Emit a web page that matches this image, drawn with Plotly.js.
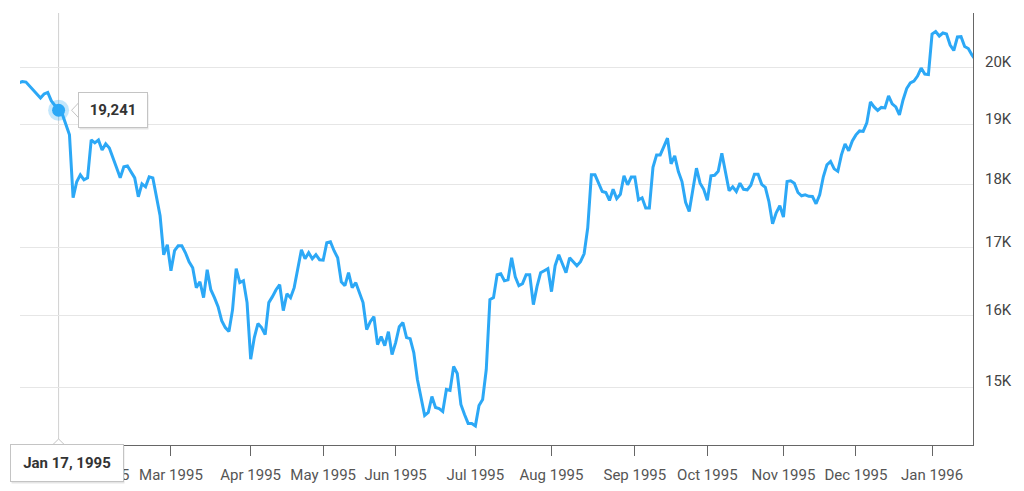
<!DOCTYPE html>
<html>
<head>
<meta charset="utf-8">
<script src="https://cdn.plot.ly/plotly-3.0.1.min.js"></script>
<style>
  html, body { margin: 0; padding: 0; background: #ffffff; }
  #chart { width: 1024px; height: 491px; }
</style>
</head>
<body>
<div id="chart"></div>
<script>
// ---- Data (Nikkei 225 daily close) ----
const startDate = '1994-12-28';
const endDate = '1996-01-23';
// Tokyo market holidays (weekdays) in the period
const holidays = [
  '1995-01-02','1995-01-03','1995-01-16','1995-03-21','1995-05-03','1995-05-04','1995-05-05',
  '1995-09-15','1995-10-10','1995-11-03','1995-11-23','1996-01-01','1996-01-02','1996-01-03','1996-01-15'
];
const values = [
  19720,19745,19735,19665,19595,19507,19455,19525,19551,19403,
  19316,19241,19178,19006,18820,17785,18042,18156,18074,18106,
  18735,18685,18735,18567,18668,18600,18451,18270,18106,18286,
  18302,18204,18106,17800,18009,17961,18123,18106,17816,17499,
  16896,17048,16655,16957,17033,17033,16926,16790,16700,16403,
  16491,16256,16670,16373,16256,16125,15924,15824,15767,16082,
  16685,16477,16506,16184,15381,15682,15881,15824,15725,16184,
  16271,16373,16447,16068,16314,16256,16403,16670,16972,16835,
  16926,16835,16896,16820,16813,17079,17094,16957,16850,16491,
  16432,16625,16403,16477,16344,16184,15795,15909,15981,15584,
  15696,15570,15767,15445,15612,15838,15895,15682,15668,15472,
  15102,14833,14621,14660,14873,14727,14713,14674,14967,14954,
  15279,15183,14767,14634,14517,14517,14485,14753,14833,15238,
  16227,16256,16595,16610,16506,16521,16850,16565,16432,16462,
  16595,16595,16155,16418,16625,16655,16685,16344,16730,16896,
  16745,16625,16850,16790,16730,16790,16911,17311,18156,18156,
  18025,17885,17869,17741,17920,17771,17840,18139,17993,18118,
  18118,17752,17784,17620,17620,18278,18484,18484,18622,18764,
  18335,18467,18209,18046,17713,17566,17912,18265,18020,17920,
  17744,18139,18147,18212,18512,18204,17896,17961,17885,18020,
  17920,17912,17985,18163,18163,18001,17953,17721,17374,17546,
  17658,17478,18046,18058,18020,17869,17816,17832,17808,17805,
  17689,17832,18123,18319,18376,18253,18212,18484,18668,18551,
  18718,18820,18887,18879,19023,19385,19299,19238,19290,19282,
  19490,19351,19299,19161,19420,19621,19719,19754,19843,19986,
  19879,19868,20607,20653,20570,20626,20607,20405,20304,20552,
  20558,20377,20340,20222,20131
];
const highlightDate = '1995-01-17';
const firstTickMonth = '1995-02';
const yTickVals = [15000, 16000, 17000, 18000, 19000, 20000, 21000];
const yTickText = ['15K', '16K', '17K', '18K', '19K', '20K', ''];
const monthNames = ['Jan','Feb','Mar','Apr','May','Jun','Jul','Aug','Sep','Oct','Nov','Dec'];

// ---- trading-day calendar ----
function tradingDays(start, end, hol) {
  const out = [];
  const hs = new Set(hol);
  const d = new Date(start + 'T00:00:00Z');
  const e = new Date(end + 'T00:00:00Z');
  while (d <= e) {
    const wd = d.getUTCDay();
    const s = d.toISOString().slice(0, 10);
    if (wd !== 0 && wd !== 6 && !hs.has(s)) out.push(s);
    d.setUTCDate(d.getUTCDate() + 1);
  }
  return out;
}
const dates = tradingDays(startDate, endDate, holidays);

// month ticks at first trading day of each month
const tickVals = [], tickText = [];
for (let i = 0; i < dates.length; i++) {
  const m = dates[i].slice(0, 7);
  if ((i === 0 || dates[i - 1].slice(0, 7) !== m) && m >= firstTickMonth) {
    tickVals.push(dates[i]);
    tickText.push(monthNames[parseInt(dates[i].slice(5, 7), 10) - 1] + ' ' + dates[i].slice(0, 4));
  }
}

const lineColor = '#2ca8f6';
const hi = dates.indexOf(highlightDate);
const hiVal = values[hi];
const yMin = Math.log10(14238), yMax = Math.log10(21000) + 1e-5;
const pHi = (Math.log10(hiVal) - yMin) / (yMax - yMin);
const hiLabel = (() => {
  const p = highlightDate.split('-');
  return monthNames[parseInt(p[1], 10) - 1] + ' ' + parseInt(p[2], 10) + ', ' + p[0];
})();
const valLabel = hiVal.toLocaleString('en-US');

const traces = [
  { x: dates, y: values, type: 'scatter', mode: 'lines',
    line: { color: lineColor, width: 3 }, hoverinfo: 'skip' },
  { x: [dates[hi]], y: [hiVal], type: 'scatter', mode: 'markers',
    marker: { size: 21, color: 'rgba(44,168,246,0.28)' }, hoverinfo: 'skip' },
  { x: [dates[hi]], y: [hiVal], type: 'scatter', mode: 'markers',
    marker: { size: 13, color: lineColor }, hoverinfo: 'skip' }
];

const plotH = 491 - 13 - 46;
const layout = {
  width: 1024, height: 491,
  margin: { l: 20, r: 51, t: 13, b: 46, pad: 0 },
  paper_bgcolor: '#ffffff', plot_bgcolor: '#ffffff',
  showlegend: false, hovermode: false,
  font: { family: 'Roboto, sans-serif', color: '#444', size: 15 },
  xaxis: {
    type: 'category', range: [0.35, 263.3],
    showgrid: false, zeroline: false, showline: true, linecolor: '#666', linewidth: 1,
    ticks: 'outside', ticklen: 10, tickcolor: '#666', tickwidth: 1,
    tickmode: 'array', tickvals: tickVals, ticktext: tickText, tickangle: 0,
    ticklabelstandoff: 6,
    tickfont: { family: 'Roboto, sans-serif', size: 15, color: '#555' }, automargin: false
  },
  yaxis: {
    type: 'log', side: 'right', range: [yMin, yMax],
    tickmode: 'array', tickvals: yTickVals, ticktext: yTickText,
    showgrid: true, gridcolor: '#e6e6e6', gridwidth: 1,
    showline: true, linecolor: '#666', linewidth: 1,
    ticks: 'outside', ticklen: 8, tickcolor: 'rgba(0,0,0,0)',
    ticklabelshift: -6,
    zeroline: false,
    tickfont: { family: 'Roboto, sans-serif', size: 15, color: '#444' }, automargin: false
  },
  shapes: [
    { type: 'line', xref: 'x', yref: 'paper', x0: dates[hi], x1: dates[hi], y0: -0.014, y1: 1,
      line: { color: '#d0d0d0', width: 1 }, layer: 'below' },
    { type: 'path', xref: 'x', yref: 'paper', xsizemode: 'pixel', xanchor: dates[hi],
      path: 'M 13 ' + pHi + ' L 20.5 ' + (pHi + 8 / plotH) + ' L 20.5 ' + (pHi - 8 / plotH) + ' Z',
      fillcolor: '#ffffff', line: { color: '#c4c4c4', width: 1 }, layer: 'above' },
    { type: 'path', xref: 'x', yref: 'paper', xsizemode: 'pixel', xanchor: dates[hi],
      path: 'M -7 -0.002 L 0 ' + (6 / plotH) + ' L 7 -0.002 Z',
      fillcolor: '#ffffff', line: { color: '#c4c4c4', width: 1 }, layer: 'above' }
  ],
  annotations: [
    // shadows
    { xref: 'x', yref: 'paper', x: dates[hi], y: pHi, xanchor: 'left', yanchor: 'middle',
      xshift: 20, yshift: -2, text: '', showarrow: false, width: 56, height: 22, borderpad: 6,
      bgcolor: 'rgba(0,0,0,0.10)', borderwidth: 1, bordercolor: 'rgba(0,0,0,0.0)' },
    { xref: 'x', yref: 'paper', x: dates[hi], y: 0, xanchor: 'center', yanchor: 'top',
      xshift: 9.5, yshift: -1, text: '', showarrow: false, width: 100, height: 24, borderpad: 6,
      bgcolor: 'rgba(0,0,0,0.10)', borderwidth: 1, bordercolor: 'rgba(0,0,0,0.0)' },
    // tooltip boxes
    { xref: 'x', yref: 'paper', x: dates[hi], y: pHi, xanchor: 'left', yanchor: 'middle',
      xshift: 19, yshift: 0, text: '<b>' + valLabel + '</b>', showarrow: false,
      width: 56, height: 22, borderpad: 6, bgcolor: '#ffffff', bordercolor: '#c4c4c4', borderwidth: 1,
      font: { family: 'Roboto, sans-serif', size: 15, color: '#333' } },
    { xref: 'x', yref: 'paper', x: dates[hi], y: 0, xanchor: 'center', yanchor: 'top',
      xshift: 8.5, yshift: 1, text: '<b>' + hiLabel + '</b>', showarrow: false,
      width: 100, height: 24, borderpad: 6, bgcolor: '#ffffff', bordercolor: '#c4c4c4', borderwidth: 1,
      font: { family: 'Roboto, sans-serif', size: 15, color: '#333' } }
  ]
};

Plotly.newPlot('chart', traces, layout, { displayModeBar: false, staticPlot: true });
</script>
</body>
</html>
